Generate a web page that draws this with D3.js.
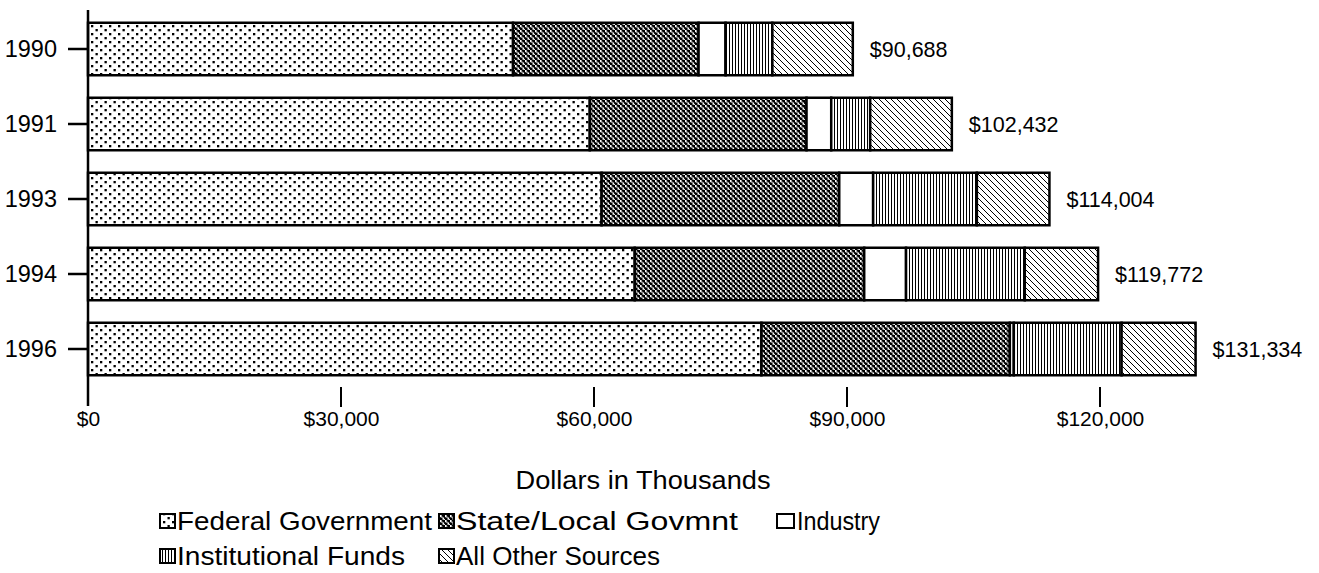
<!DOCTYPE html>
<html>
<head>
<meta charset="utf-8">
<script src="https://cdn.jsdelivr.net/npm/d3@7"></script>
<style>
  body { margin: 0; background: #fff; }
  svg { display: block; font-family: "Liberation Sans", Arial, sans-serif; }
</style>
</head>
<body>
<svg id="chart" width="1319" height="573"></svg>
<script>
const years = ["1990", "1991", "1993", "1994", "1996"];
const seriesNames = ["Federal Government", "State/Local Govmnt", "Industry", "Institutional Funds", "All Other Sources"];
const federal = [50400, 59500, 60900, 64830, 79850];
const stateLocal = [22000, 25700, 28180, 27210, 29460];
const industry = [3200, 2930, 4020, 4960, 470];
const institutional = [5550, 4620, 12300, 14080, 12780];
const otherSources = [9538, 9682, 8604, 8692, 8774];
const totals = [90688, 102432, 114004, 119772, 131334];
const xTicks = [0, 30000, 60000, 90000, 120000];
const axisTitle = "Dollars in Thousands";

const svg = d3.select("#chart");
const defs = svg.append("defs");

// Patterns
const pFed = defs.append("pattern").attr("id", "pFed").attr("patternUnits", "userSpaceOnUse").attr("width", 9).attr("height", 8);
pFed.append("rect").attr("width", 9).attr("height", 8).attr("fill", "#fff");
pFed.append("rect").attr("x", 1).attr("y", 1).attr("width", 2.3).attr("height", 2.3).attr("fill", "#000");
pFed.append("rect").attr("x", 5.5).attr("y", 5).attr("width", 2.3).attr("height", 2.3).attr("fill", "#000");

const pState = defs.append("pattern").attr("id", "pState").attr("patternUnits", "userSpaceOnUse").attr("width", 5).attr("height", 5);
pState.append("rect").attr("width", 5).attr("height", 5).attr("fill", "#000");
pState.append("rect").attr("x", 0).attr("y", 0).attr("width", 1.6).attr("height", 2.2).attr("fill", "#fff");
pState.append("rect").attr("x", 2.5).attr("y", 2.5).attr("width", 1.6).attr("height", 2.2).attr("fill", "#fff");
pState.append("rect").attr("x", 1.4).attr("y", 1.6).attr("width", 1.2).attr("height", 1.2).attr("fill", "#fff");
pState.append("rect").attr("x", 3.9).attr("y", 4.1).attr("width", 1.1).attr("height", 0.9).attr("fill", "#fff");

const pInst = defs.append("pattern").attr("id", "pInst").attr("patternUnits", "userSpaceOnUse").attr("width", 3).attr("height", 3);
pInst.append("rect").attr("width", 3).attr("height", 3).attr("fill", "#fff");
pInst.append("rect").attr("x", 0).attr("width", 1).attr("height", 3).attr("fill", "#000");

const pOther = defs.append("pattern").attr("id", "pOther").attr("patternUnits", "userSpaceOnUse").attr("width", 6).attr("height", 6);
pOther.append("rect").attr("width", 6).attr("height", 6).attr("fill", "#fff");
pOther.append("path").attr("d", "M-1,-1 L7,7 M-1,5 L1,7 M5,-1 L7,1").attr("stroke", "#000").attr("stroke-width", 1);

const fills = ["url(#pFed)", "url(#pState)", "#fff", "url(#pInst)", "url(#pOther)"];

const x = d3.scaleLinear().domain([0, 120000]).range([88, 1100]);
const y = d3.scaleBand().domain(years).range([11.5, 386.5]).paddingInner(0.3).paddingOuter(0.15);

const table = years.map((yr, i) => ({
  year: yr,
  "Federal Government": federal[i],
  "State/Local Govmnt": stateLocal[i],
  "Industry": industry[i],
  "Institutional Funds": institutional[i],
  "All Other Sources": otherSources[i]
}));
const stack = d3.stack().keys(seriesNames)(table);

svg.append("g").selectAll("g").data(stack).join("g")
  .attr("fill", (d, i) => fills[i])
  .selectAll("rect").data(d => d).join("rect")
  .attr("x", d => x(d[0]))
  .attr("y", d => y(d.data.year))
  .attr("width", d => x(d[1]) - x(d[0]))
  .attr("height", y.bandwidth())
  .attr("stroke", "#000")
  .attr("stroke-width", 2.5);

// Total labels
svg.append("g").selectAll("text").data(years).join("text")
  .attr("x", (d, i) => x(totals[i]) + 17)
  .attr("y", d => y(d) + y.bandwidth() / 2)
  .attr("dy", "0.35em")
  .attr("font-size", 21.5)
  .text((d, i) => d3.format("$,")(totals[i]));

// Y axis
const yAxis = d3.axisLeft(y).tickSize(20).tickPadding(11);
const gy = svg.append("g").attr("transform", "translate(88,0)").call(yAxis);
gy.select(".domain").remove();
gy.selectAll(".tick line").attr("stroke-width", 2.5);
gy.selectAll(".tick text").attr("font-size", 23.5).attr("font-family", "Liberation Sans, Arial, sans-serif").attr("fill", "#000");
svg.append("line").attr("x1", 88).attr("x2", 88).attr("y1", 10).attr("y2", 406).attr("stroke", "#000").attr("stroke-width", 2.5);

// X axis
const xAxis = d3.axisBottom(x).tickValues(xTicks).tickSize(0).tickPadding(0).tickFormat(d3.format("$,"));
const gx = svg.append("g").attr("transform", "translate(0,411)").call(xAxis);
gx.select(".domain").remove();
gx.selectAll(".tick text").attr("font-size", 21).attr("font-family", "Liberation Sans, Arial, sans-serif").attr("fill", "#000");
svg.append("g").selectAll("line").data(xTicks.filter(d => d > 0)).join("line")
  .attr("x1", d => x(d)).attr("x2", d => x(d))
  .attr("y1", 387).attr("y2", 407)
  .attr("stroke", "#000").attr("stroke-width", 2);

// Axis title
svg.append("text").attr("x", 643).attr("y", 480).attr("dy", "0.35em")
  .attr("text-anchor", "middle").attr("font-size", 26.5)
  .attr("textLength", 255).attr("lengthAdjust", "spacingAndGlyphs")
  .text(axisTitle);

// Legend
const legendPos = [
  { sx: 160, tx: 177, cy: 521, len: 255 },
  { sx: 439, tx: 456, cy: 521, len: 282 },
  { sx: 777, tx: 797, cy: 521, len: 83 },
  { sx: 160, tx: 177, cy: 556, len: 228 },
  { sx: 439, tx: 456, cy: 556, len: 204 }
];
const lg = svg.append("g").selectAll("g").data(seriesNames).join("g");
lg.append("rect")
  .attr("x", (d, i) => legendPos[i].sx)
  .attr("y", (d, i) => legendPos[i].cy - 7)
  .attr("width", (d, i) => i === 2 ? 17 : 15)
  .attr("height", 14)
  .attr("fill", (d, i) => fills[i])
  .attr("stroke", "#000").attr("stroke-width", 2);
lg.append("text")
  .attr("x", (d, i) => legendPos[i].tx)
  .attr("y", (d, i) => legendPos[i].cy)
  .attr("dy", "0.35em")
  .attr("font-size", 26.5)
  .attr("textLength", (d, i) => legendPos[i].len)
  .attr("lengthAdjust", "spacingAndGlyphs")
  .text(d => d);
</script>
</body>
</html>
